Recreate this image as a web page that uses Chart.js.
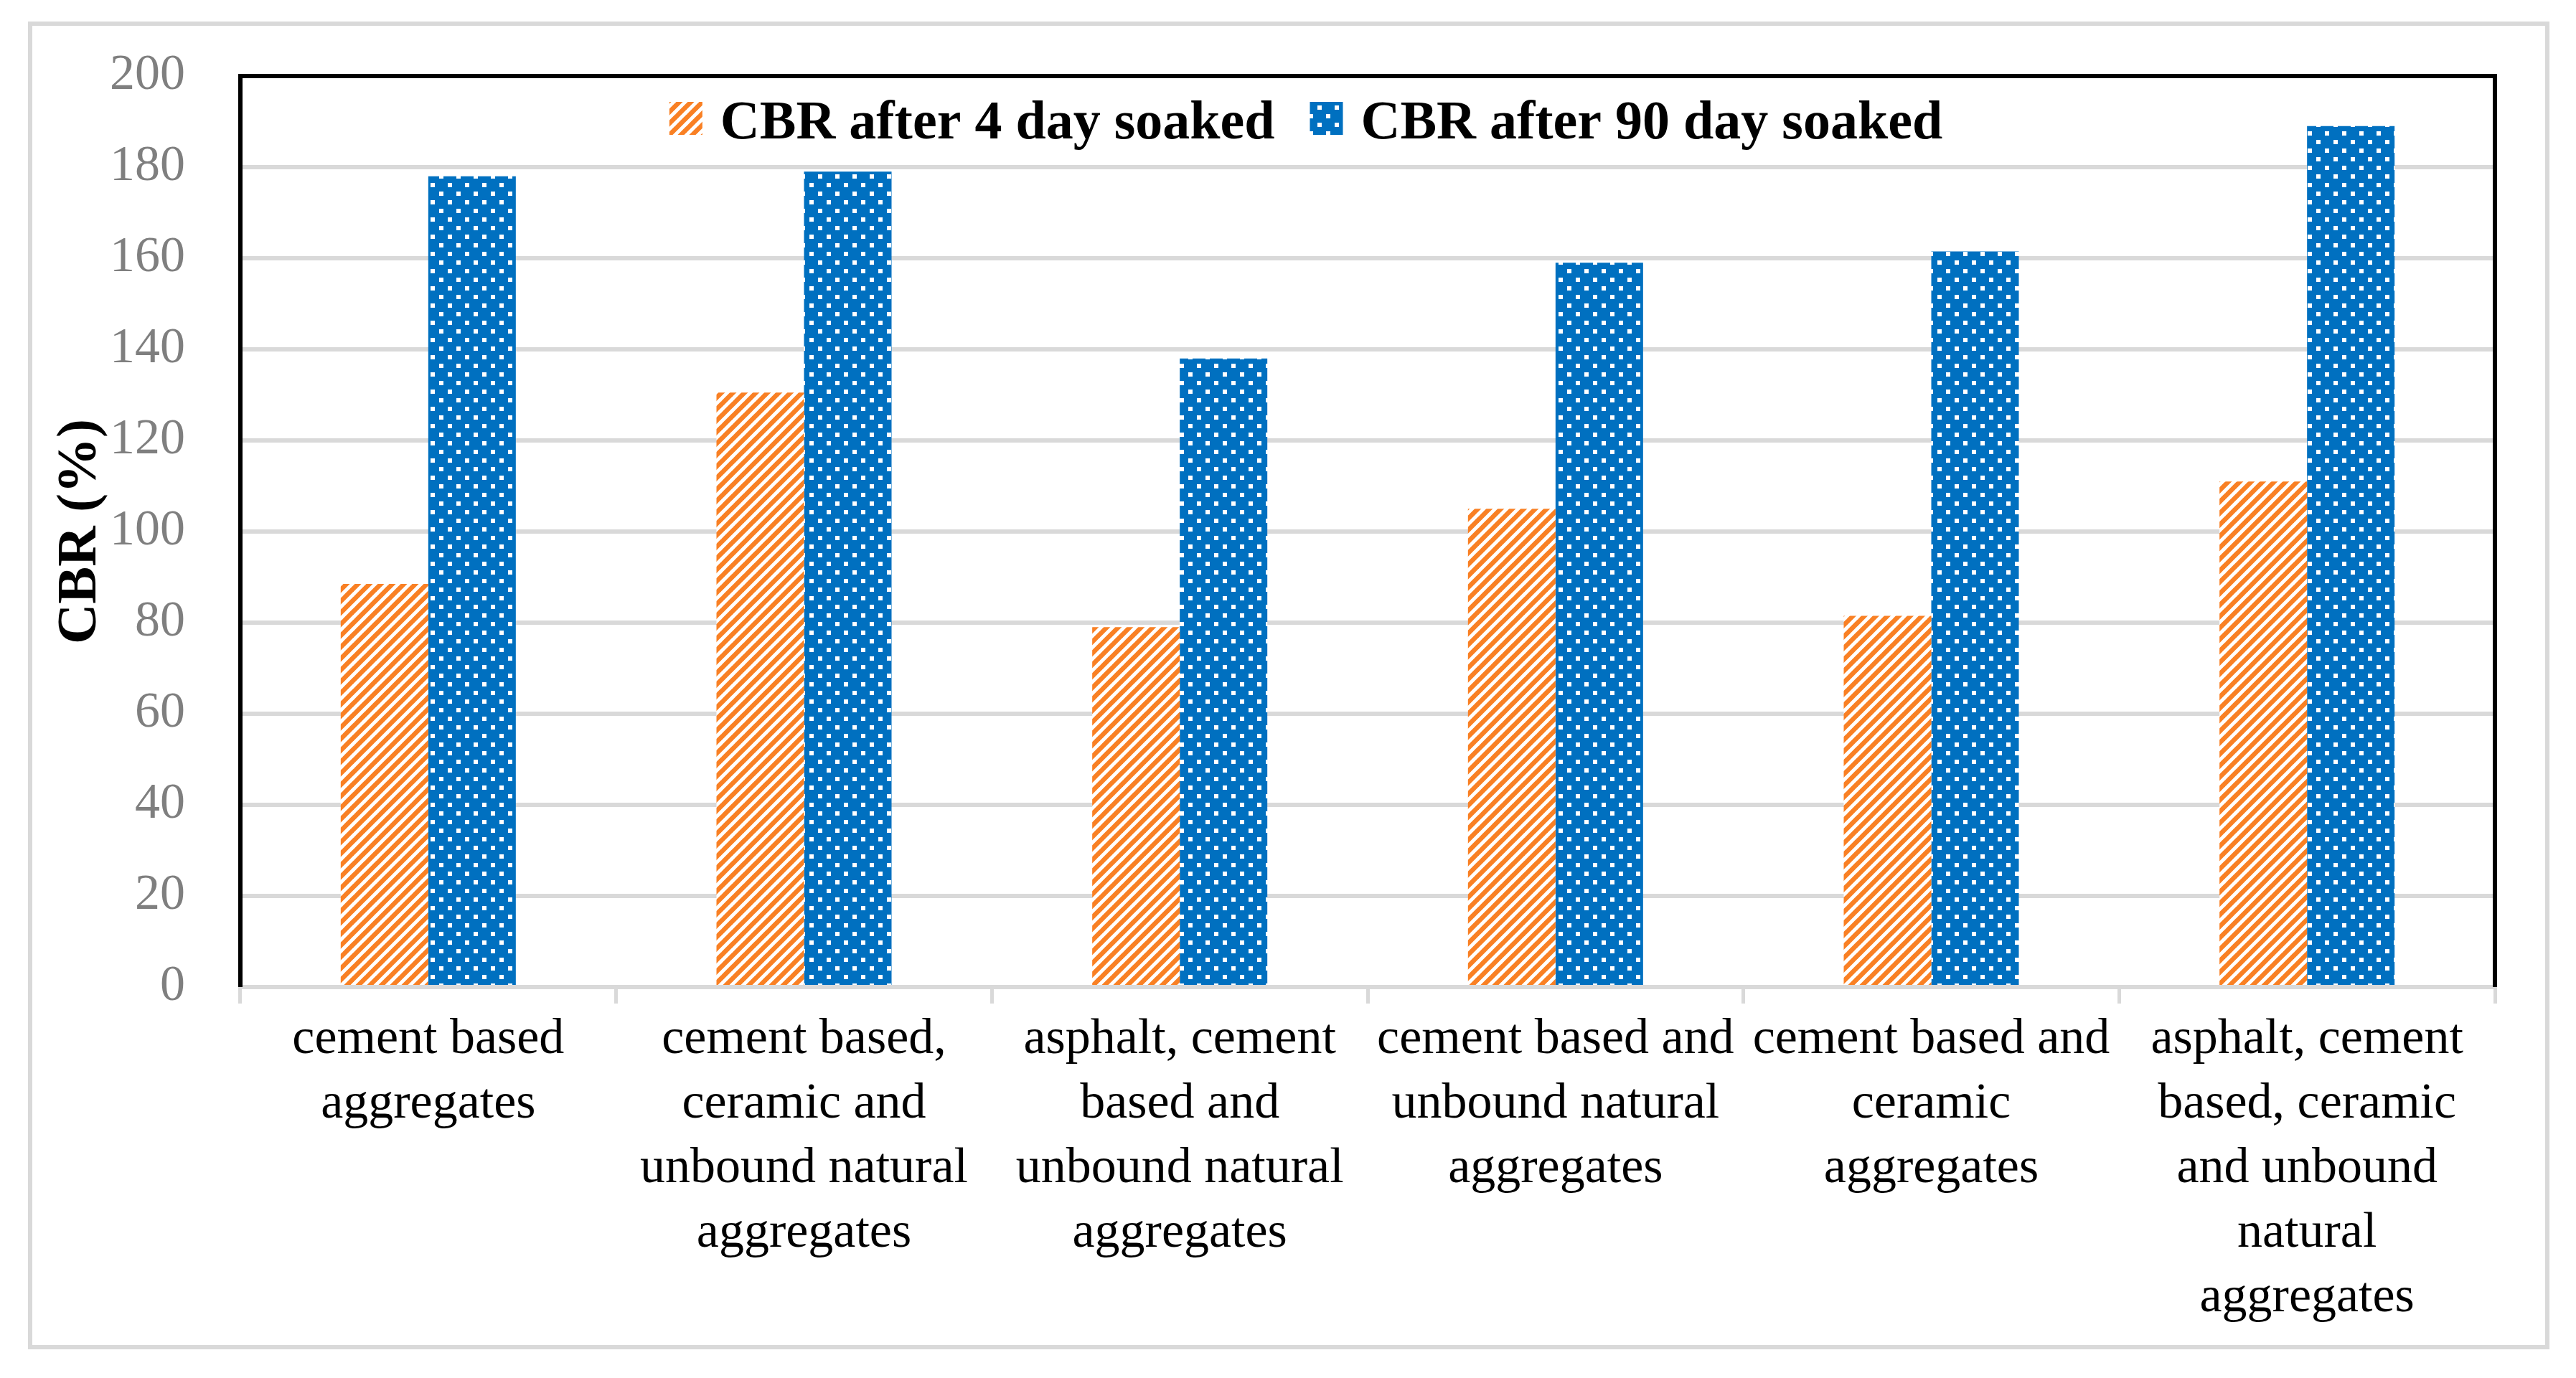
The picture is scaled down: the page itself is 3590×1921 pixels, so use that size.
<!DOCTYPE html>
<html>
<head>
<meta charset="utf-8">
<script src="https://cdn.jsdelivr.net/npm/chart.js@4.4.1/dist/chart.umd.min.js"></script>
<style>
  html, body { margin: 0; padding: 0; background: #fff; }
  #frame { position: absolute; left: 39px; top: 30px; width: 3514px; height: 1851px; box-sizing: border-box; border: 6px solid #d9d9d9; }
  #box { position: relative; width: 3502px; height: 1839px; }
</style>
</head>
<body>
<div id="frame"><div id="box"><canvas id="cbrChart"></canvas></div></div>
<script>
// category labels, already split into lines like the original
const categories = [
  ["cement based", "aggregates"],
  ["cement based,", "ceramic and", "unbound natural", "aggregates"],
  ["asphalt, cement", "based and", "unbound natural", "aggregates"],
  ["cement based and", "unbound natural", "aggregates"],
  ["cement based and", "ceramic", "aggregates"],
  ["asphalt, cement", "based, ceramic", "and unbound", "natural", "aggregates"]
];
const seriesNames = ["CBR after 4 day soaked", "CBR after 90 day soaked"];
const cbr4day = [88.5, 130.5, 79, 105, 81.5, 111];
const cbr90day = [178, 179, 138, 159, 161.5, 189];
const yTicks = [0, 20, 40, 60, 80, 100, 120, 140, 160, 180, 200];

const serif = '"Liberation Serif", "Times New Roman", serif';

function stripePattern(color) {
  const w = 16, h = 16;
  const c = document.createElement('canvas');
  c.width = w; c.height = h;
  const g = c.getContext('2d');
  g.fillStyle = '#fff';
  g.fillRect(0, 0, w, h);
  g.strokeStyle = color;
  g.lineWidth = 6.5;
  for (let k = -1; k <= 1; k++) {
    g.beginPath();
    g.moveTo(k * w - w, 2 * h);
    g.lineTo(k * w + 2 * w, -h);
    g.stroke();
  }
  return g.createPattern(c, 'repeat');
}

function dotPattern(color) {
  const c = document.createElement('canvas');
  c.width = 24; c.height = 24;
  const g = c.getContext('2d');
  g.fillStyle = color;
  g.fillRect(0, 0, 24, 24);
  g.fillStyle = '#fff';
  g.fillRect(3, 3, 6, 6);
  g.fillRect(15, 15, 6, 6);
  return g.createPattern(c, 'repeat');
}

// black frame on left, top and right of the plot
const plotFrame = {
  id: 'plotFrame',
  afterDraw(chart) {
    const { ctx, chartArea: a } = chart;
    ctx.save();
    ctx.strokeStyle = '#000';
    ctx.lineWidth = 6;
    ctx.beginPath();
    ctx.moveTo(a.left, a.bottom);
    ctx.lineTo(a.left, a.top);
    ctx.lineTo(a.right, a.top);
    ctx.lineTo(a.right, a.bottom);
    ctx.stroke();
    ctx.restore();
  }
};

// legend sits inside the plot, on one row
const innerLegend = {
  id: 'innerLegend',
  afterDraw(chart) {
    const { ctx, chartArea: a } = chart;
    const box = 46, gap = 25, between = 49;
    ctx.save();
    ctx.font = 'bold 76px ' + serif;
    ctx.textBaseline = 'alphabetic';
    ctx.fillStyle = '#000';
    const items = chart.data.datasets.map(ds => ({ ds, w: ctx.measureText(ds.label).width }));
    const total = items.reduce((s, it) => s + box + gap + it.w, 0) + between * (items.length - 1);
    let x = chart.width / 2 + 24 - total / 2;
    items.forEach(it => {
      ctx.fillStyle = it.ds.backgroundColor;
      ctx.fillRect(x, a.top + 36, box, box);
      ctx.fillStyle = '#000';
      ctx.fillText(it.ds.label, x + box + gap, a.top + 87);
      x += box + gap + it.w + between;
    });
    ctx.restore();
  }
};

const ctx = document.getElementById('cbrChart').getContext('2d');
new Chart(ctx, {
  type: 'bar',
  data: {
    labels: categories,
    datasets: [{
      label: seriesNames[0],
      data: cbr4day,
      backgroundColor: stripePattern('#f98024'),
      borderWidth: 0
    }, {
      label: seriesNames[1],
      data: cbr90day,
      backgroundColor: dotPattern('#0070c0'),
      borderWidth: 0
    }]
  },
  options: {
    responsive: true,
    maintainAspectRatio: false,
    devicePixelRatio: 1,
    animation: false,
    datasets: {
      bar: { categoryPercentage: 0.466, barPercentage: 1 }
    },
    layout: { padding: { left: 21, top: 70, right: 70, bottom: 0 } },
    plugins: {
      legend: { display: false },
      tooltip: { enabled: false }
    },
    scales: {
      x: {
        afterFit(scale) { scale.height = 499; },
        grid: {
          display: true,
          drawOnChartArea: false,
          drawTicks: true,
          tickLength: 23,
          color: '#d9d9d9',
          lineWidth: 5,
          offset: true
        },
        border: { display: true, color: '#d9d9d9', width: 6 },
        ticks: {
          color: '#000',
          font: { family: serif, size: 70, lineHeight: 90 / 70 },
          padding: 6,
          maxRotation: 0,
          minRotation: 0,
          autoSkip: false
        }
      },
      y: {
        min: 0,
        max: 200,
        afterFit(scale) {
          scale.width = 269;
          scale.paddingTop = 0;
          scale.paddingBottom = 0;
        },
        afterBuildTicks(scale) { scale.ticks = yTicks.map(v => ({ value: v })); },
        grid: { color: '#d9d9d9', lineWidth: 6, drawTicks: false },
        border: { display: false },
        ticks: {
          color: '#7f7f7f',
          font: { family: serif, size: 70 },
          padding: 77
        },
        title: {
          display: true,
          text: 'CBR (%)',
          color: '#000',
          font: { family: serif, size: 78, weight: 'bold', lineHeight: 1.2 },
          padding: 0
        }
      }
    }
  },
  plugins: [plotFrame, innerLegend]
});
</script>
</body>
</html>
